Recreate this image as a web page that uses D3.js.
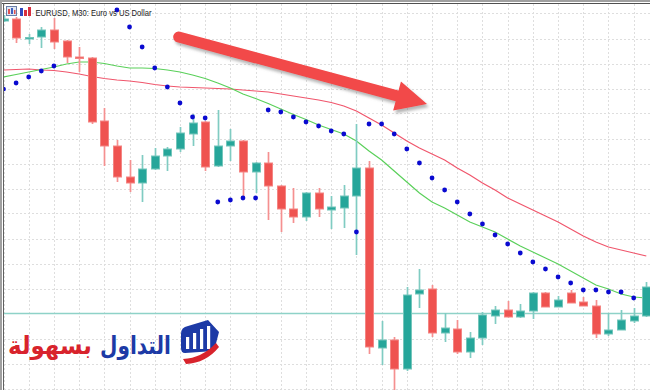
<!DOCTYPE html>
<html><head><meta charset="utf-8">
<script src="https://cdn.jsdelivr.net/npm/d3@7"></script>
<style>html,body{margin:0;padding:0;background:#fff;overflow:hidden}</style>
</head><body><div id="chart"></div>
<script>
const title = "EURUSD, M30:  Euro vs US Dollar";
const logoBlue = "التداول";
const logoRed = "بسهولة";

const opens = [1.08785,1.08789,1.08750,1.08753,1.08767,1.08745,1.08713,1.08711,1.08585,1.08535,
  1.08473,1.08461,1.08489,1.08515,1.08529,1.08559,1.08583,1.08495,1.08535,1.08545,
  1.08483,1.08501,1.08455,1.08409,1.08393,1.08441,1.08407,1.08411,1.08435,1.08491,
  1.08131,1.08147,1.08089,1.08239,1.08249,1.08161,1.08169,1.08123,1.08151,1.08195,
  1.08207,1.08193,1.08205,1.08241,1.08213,1.08241,1.08223,1.08215,1.08159,1.08167,
  1.08185,1.08195];
const highs = [1.08797,1.08793,1.08759,1.08773,1.08791,1.08747,1.08733,1.08713,1.08611,1.08547,
  1.08507,1.08517,1.08531,1.08533,1.08573,1.08599,1.08585,1.08607,1.08569,1.08547,
  1.08503,1.08523,1.08457,1.08451,1.08443,1.08451,1.08435,1.08457,1.08579,1.08505,
  1.08185,1.08153,1.08253,1.08289,1.08257,1.08201,1.08187,1.08163,1.08203,1.08215,
  1.08225,1.08219,1.08243,1.08243,1.08235,1.08247,1.08233,1.08227,1.08201,1.08207,
  1.08211,1.08263];
const lows = [1.08783,1.08741,1.08739,1.08731,1.08729,1.08701,1.08683,1.08579,1.08495,1.08463,
  1.08443,1.08423,1.08487,1.08485,1.08523,1.08535,1.08485,1.08493,1.08505,1.08431,
  1.08441,1.08387,1.08363,1.08381,1.08385,1.08393,1.08369,1.08371,1.08317,1.08119,
  1.08097,1.08043,1.08085,1.08211,1.08153,1.08143,1.08119,1.08111,1.08137,1.08179,
  1.08192,1.08191,1.08189,1.08213,1.08213,1.08221,1.08215,1.08151,1.08155,1.08167,
  1.08181,1.08193];
const closes = [1.08789,1.08751,1.08752,1.08767,1.08743,1.08713,1.08710,1.08583,1.08535,1.08473,
  1.08461,1.08489,1.08515,1.08529,1.08561,1.08581,1.08493,1.08535,1.08545,1.08483,
  1.08501,1.08455,1.08409,1.08393,1.08441,1.08409,1.08413,1.08435,1.08491,1.08133,
  1.08147,1.08089,1.08237,1.08247,1.08161,1.08171,1.08123,1.08151,1.08197,1.08207,
  1.08193,1.08205,1.08241,1.08213,1.08227,1.08221,1.08215,1.08159,1.08167,1.08187,
  1.08195,1.08253];
const sar = [1.08649,1.08661,1.08673,1.08685,1.08695,null,null,null,null,1.08807,
  1.08773,1.08733,1.08691,1.08653,1.08621,1.08593,1.08591,1.08423,1.08427,1.08431,
  1.08431,1.08607,1.08603,1.08593,1.08583,1.08575,1.08565,1.08559,1.08363,1.08579,
  1.08579,1.08559,1.08529,1.08501,1.08471,1.08447,1.08423,1.08399,1.08379,1.08357,
  1.08339,1.08321,1.08303,1.08289,1.08273,1.08261,1.08247,1.08247,1.08243,1.08243,
  1.08231,null];
const maFast = [1.08673,1.08678,1.08683,1.08688,1.08693,1.08699,1.08703,1.08703,1.08700,1.08695,
  1.08691,1.08691,1.08690,1.08687,1.08683,1.08677,1.08670,1.08661,1.08651,1.08639,
  1.08630,1.08620,1.08609,1.08598,1.08588,1.08577,1.08568,1.08559,1.08545,1.08525,
  1.08507,1.08485,1.08463,1.08441,1.08423,1.08411,1.08397,1.08383,1.08373,1.08363,
  1.08349,1.08335,1.08323,1.08311,1.08299,1.08285,1.08271,1.08257,1.08249,1.08239,
  1.08233,1.08231];
const maSlow = [1.08687,1.08688,1.08689,1.08687,1.08686,1.08683,1.08679,1.08674,1.08670,1.08667,
  1.08665,1.08662,1.08658,1.08655,1.08653,1.08652,1.08651,1.08650,1.08649,1.08647,
  1.08645,1.08643,1.08639,1.08635,1.08631,1.08627,1.08622,1.08615,1.08605,1.08591,
  1.08577,1.08561,1.08545,1.08531,1.08519,1.08507,1.08491,1.08477,1.08461,1.08447,
  1.08431,1.08419,1.08407,1.08395,1.08383,1.08369,1.08355,1.08343,1.08333,1.08327,
  1.08321,1.08315];
const gridPrices = [1.0880,1.0875,1.0870,1.0865,1.0860,1.0855,1.0850,1.0845,
  1.0840,1.0835,1.0830,1.0825,1.0820,1.0815,1.0810,1.0805];
const levelPrice = 1.0820;
const arrowFrom = {i: 13.9, p: 1.08753};
const arrowTo = {i: 33.6, p: 1.08619};

const W = 650, H = 390;
const candles = opens.map((o, i) => ({i, o, h: highs[i], l: lows[i], c: closes[i]}));

const x = d3.scaleLinear().domain([0, 51]).range([3.5, 646.3]);
const y = d3.scaleLinear().domain([1.08047, 1.08827]).range([390, 0]);

const svg = d3.select("#chart").append("svg").attr("width", W).attr("height", H)
  .style("display", "block").style("font-family", "'Liberation Sans', Arial, sans-serif");

const defs = svg.append("defs");
defs.append("clipPath").attr("id", "clip").append("rect")
  .attr("x", 4).attr("y", 4).attr("width", W - 4).attr("height", H - 4);
const f = defs.append("filter").attr("id", "shadow").attr("x", "-10%").attr("y", "-30%")
  .attr("width", "130%").attr("height", "180%");
f.append("feDropShadow").attr("dx", 2).attr("dy", 3).attr("stdDeviation", 1.6)
  .attr("flood-color", "#777").attr("flood-opacity", 0.55);

svg.append("rect").attr("width", W).attr("height", H).attr("fill", "#fff");

const g = svg.append("g").attr("clip-path", "url(#clip)");

// grid
const evenIdx = d3.range(0, 52, 2);
g.append("g").selectAll("line").data(evenIdx).join("line")
  .attr("x1", d => Math.round(x(d)) + 0.5).attr("x2", d => Math.round(x(d)) + 0.5)
  .attr("y1", 0).attr("y2", H)
  .attr("stroke", "#dedede").attr("stroke-dasharray", "2,2");
g.append("g").selectAll("line").data(gridPrices).join("line")
  .attr("y1", d => Math.round(y(d)) + 0.5).attr("y2", d => Math.round(y(d)) + 0.5)
  .attr("x1", 0).attr("x2", W)
  .attr("stroke", "#dedede").attr("stroke-dasharray", "2,2");

// title and icons (behind chart objects)
const ic = svg.append("g");
ic.append("rect").attr("x", 6.5).attr("y", 6.5).attr("width", 10).attr("height", 9)
  .attr("fill", "#dfe6f2").attr("stroke", "#6a7fa8");
ic.append("rect").attr("x", 8).attr("y", 9).attr("width", 2).attr("height", 5).attr("fill", "#e05050");
ic.append("rect").attr("x", 11).attr("y", 8).attr("width", 2).attr("height", 6).attr("fill", "#4060c0");
ic.append("rect").attr("x", 14).attr("y", 10).attr("width", 1.5).attr("height", 4).attr("fill", "#e05050");
ic.append("rect").attr("x", 20).attr("y", 8).attr("width", 3).attr("height", 8).attr("fill", "#3048c0");
ic.append("rect").attr("x", 24).attr("y", 10).attr("width", 3).attr("height", 6).attr("fill", "#d83040");
ic.append("rect").attr("x", 28).attr("y", 7).attr("width", 3).attr("height", 9).attr("fill", "#d83040");
svg.append("text").attr("x", 35.5).attr("y", 15.5).attr("font-size", 8.4)
  .attr("textLength", 116).attr("lengthAdjust", "spacingAndGlyphs")
  .attr("fill", "#1a1a1a").text(title);

// level line
g.append("line").attr("x1", 0).attr("x2", W)
  .attr("y1", y(levelPrice)).attr("y2", y(levelPrice))
  .attr("stroke", "#8ed2c8").attr("stroke-width", 1.6);

// moving averages
const line = d3.line().x((d, i) => x(i)).y(d => y(d));
g.append("path").attr("d", line(maSlow)).attr("fill", "none")
  .attr("stroke", "#f0566c").attr("stroke-width", 1.2);
g.append("path").attr("d", line(maFast)).attr("fill", "none")
  .attr("stroke", "#5ad05a").attr("stroke-width", 1.2);

// candles
const bull = d => d.c >= d.o;
const cg = g.append("g").selectAll("g").data(candles).join("g");
cg.append("line")
  .attr("x1", d => Math.round(x(d.i)) + 0.5).attr("x2", d => Math.round(x(d.i)) + 0.5)
  .attr("y1", d => y(d.h)).attr("y2", d => y(d.l))
  .attr("stroke", d => bull(d) ? "#80ccc2" : "#f59090").attr("stroke-width", 1.7);
cg.append("rect")
  .attr("x", d => Math.round(x(d.i)) - 3.5).attr("width", 8)
  .attr("y", d => y(Math.max(d.o, d.c)))
  .attr("height", d => Math.max(1.5, Math.abs(y(d.o) - y(d.c))))
  .attr("fill", d => bull(d) ? "#26a69a" : "#ef5350")
  .attr("stroke", d => bull(d) ? "#74c6bb" : "#f48583").attr("stroke-width", 1);

// parabolic SAR
g.append("g").selectAll("circle").data(sar.map((v, i) => ({i, v})).filter(d => d.v !== null))
  .join("circle").attr("cx", d => x(d.i)).attr("cy", d => y(d.v)).attr("r", 2.4)
  .attr("fill", "#0a0ad0");

// arrow annotation
const p1 = [x(arrowFrom.i), y(arrowFrom.p)], p2 = [x(arrowTo.i), y(arrowTo.p)];
const dx = p2[0] - p1[0], dy = p2[1] - p1[1], len = Math.hypot(dx, dy);
const u = [dx / len, dy / len], n = [-u[1], u[0]];
const hw = 5.5, hh = 15, hl = 31;
const base = [p2[0] - u[0] * hl, p2[1] - u[1] * hl];
const P = (p, k) => `${p[0] + n[0] * k},${p[1] + n[1] * k}`;
const arrowPath = `M${P(p1, -hw)} L${P(base, -hw)} L${P(base, -hh)} L${p2[0]},${p2[1]} L${P(base, hh)} L${P(base, hw)} L${P(p1, hw)} A${hw},${hw} 0 0 1 ${P(p1, -hw)} Z`;
svg.append("path").attr("d", arrowPath).attr("fill", "#f24848").attr("filter", "url(#shadow)");

// logo
const lg = svg.append("g");
lg.append("path").attr("d", "M181,334 Q181,327 188,326 L208,320 L219,332 L214,351 L185,353 Q181,353 181,348 Z")
  .attr("fill", "#1d3aa6");
[[186, 337], [193, 333], [200, 329], [207, 326]].forEach(([bx, by]) => {
  lg.append("rect").attr("x", bx).attr("y", by).attr("width", 3.2).attr("height", 349 - by).attr("fill", "#fff");
});
lg.append("path").attr("d", "M183,359 Q202,358 216,343 L219,347 Q206,363 186,364 Z").attr("fill", "#d8232c");

function fitText(txt, color, x0, x1) {
  const t = lg.append("text").attr("x", 0).attr("y", 0)
    .attr("font-family", "'DejaVu Sans', sans-serif").attr("font-weight", "bold")
    .attr("font-size", 25).attr("fill", color).text(txt);
  const bb = t.node().getBBox();
  const sx = (x1 - x0) / bb.width;
  t.attr("transform", `translate(${x0 - bb.x * sx},354) scale(${sx},1)`);
}
fitText(logoBlue, "#1d3aa6", 100, 171);
fitText(logoRed, "#d8232c", 8, 92);

// window frame
svg.append("line").attr("x1", 0).attr("x2", W).attr("y1", 1).attr("y2", 1).attr("stroke", "#a0a0a0").attr("stroke-width", 2);
svg.append("line").attr("x1", 0).attr("x2", W).attr("y1", 3.5).attr("y2", 3.5).attr("stroke", "#505050").attr("stroke-width", 1);
svg.append("line").attr("x1", 1).attr("x2", 1).attr("y1", 0).attr("y2", H).attr("stroke", "#a0a0a0").attr("stroke-width", 2);
svg.append("line").attr("x1", 3.5).attr("x2", 3.5).attr("y1", 3).attr("y2", H).attr("stroke", "#606060").attr("stroke-width", 1);
</script></body></html>
